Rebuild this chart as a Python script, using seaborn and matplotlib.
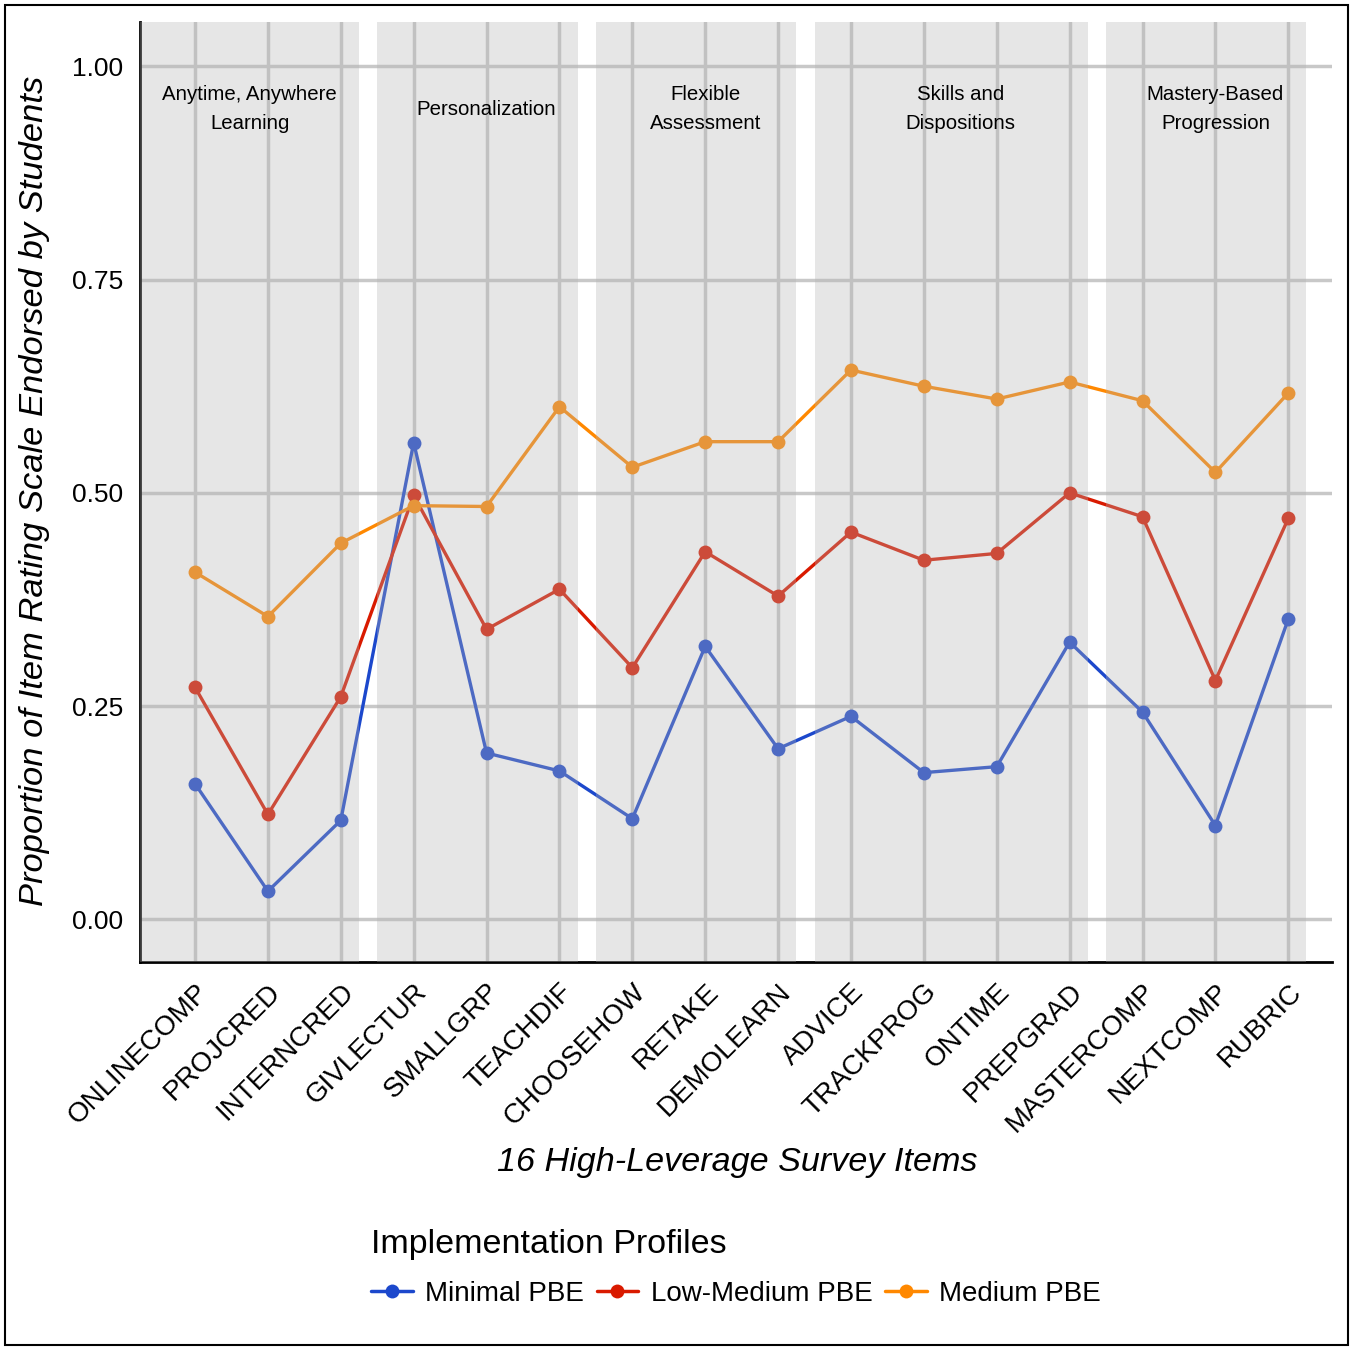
import numpy as np
import pandas as pd
import matplotlib.pyplot as plt
import seaborn as sns
from matplotlib.lines import Line2D
from matplotlib.patches import Rectangle

# Dane
items = ['ONLINECOMP', 'PROJCRED', 'INTERNCRED', 'GIVLECTUR', 'SMALLGRP', 'TEACHDIF',
         'CHOOSEHOW', 'RETAKE', 'DEMOLEARN', 'ADVICE', 'TRACKPROG', 'ONTIME',
         'PREPGRAD', 'MASTERCOMP', 'NEXTCOMP', 'RUBRIC']
minimal = [0.159, 0.033, 0.116, 0.559, 0.195, 0.174, 0.118, 0.320,
           0.200, 0.238, 0.172, 0.179, 0.325, 0.243, 0.110, 0.352]
low_medium = [0.272, 0.123, 0.261, 0.497, 0.340, 0.387, 0.295, 0.431,
              0.379, 0.454, 0.421, 0.429, 0.500, 0.472, 0.280, 0.470]
medium = [0.407, 0.355, 0.441, 0.485, 0.484, 0.601, 0.530, 0.560,
          0.560, 0.644, 0.625, 0.610, 0.630, 0.608, 0.524, 0.617]
profiles = ['Minimal PBE', 'Low-Medium PBE', 'Medium PBE']
colors = ['#1c48cc', '#d91a00', '#ff8800']

groups = ['Anytime, Anywhere\nLearning', 'Personalization', 'Flexible\nAssessment',
          'Skills and\nDispositions', 'Mastery-Based\nProgression']
group_first = [0, 3, 6, 9, 13]
group_last = [2, 5, 8, 12, 15]
group_label_x = [0.75, 4, 7, 10.5, 14]

df = pd.DataFrame({
    'pos': list(range(len(items))) * 3,
    'value': minimal + low_medium + medium,
    'profile': np.repeat(profiles, len(items)),
})

sns.set_style('white')
plt.rcParams['font.family'] = ['Liberation Sans', 'DejaVu Sans']
plt.rcParams['text.color'] = 'black'
plt.rcParams['xtick.color'] = 'black'
plt.rcParams['ytick.color'] = 'black'

fig = plt.figure(figsize=(13.51, 13.47), dpi=100)
ax = fig.add_axes([140 / 1351, 1 - 962 / 1347, 1192 / 1351, 940 / 1347])

ax.set_axisbelow(True)
ax.grid(True, color='#c8c8c8', lw=2.5)

sns.lineplot(data=df, x='pos', y='value', hue='profile', palette=colors,
             marker='o', markersize=10, markeredgewidth=0, linewidth=2.4,
             ax=ax, legend=False, zorder=2)

# Szare pasy grup (półprzezroczyste, nad liniami)
x_left = -0.755
for i, (a, b) in enumerate(zip(group_first, group_last)):
    left = x_left if i == 0 else a - 0.5
    ax.axvspan(left, b + 0.25, color=(0.7, 0.7, 0.7), alpha=0.325, lw=0, zorder=3)
    ax.text(group_label_x[i], 0.95, groups[i], ha='center', va='center',
            fontsize=14.7, linespacing=1.7, zorder=4, color='black')

ax.set_xlim(x_left, 15.6)
ax.set_ylim(-0.05, 1.052)
ax.set_xticks(range(len(items)))
ax.set_xticklabels(items, rotation=45, ha='right', va='top',
                   rotation_mode='anchor', fontsize=20)
ax.set_yticks([0, 0.25, 0.5, 0.75, 1.0])
ax.set_yticklabels(['0.00', '0.25', '0.50', '0.75', '1.00'], fontsize=19)
ax.tick_params(axis='x', length=0, pad=12)
ax.tick_params(axis='y', length=0, pad=12)
ax.set_xlabel('')
ax.set_ylabel('')

for s in ['top', 'right']:
    ax.spines[s].set_visible(False)
for s in ['left', 'bottom']:
    ax.spines[s].set_color('black')
    ax.spines[s].set_linewidth(2)

fig.text(737 / 1351, 1 - 1163 / 1347, '16 High-Leverage Survey Items',
         ha='center', va='center', fontsize=24.6, style='italic')
fig.text(35 / 1351, 1 - 491 / 1347,
         'Proportion of Item Rating Scale Endorsed by Students',
         ha='center', va='center', rotation=90, fontsize=24.8, style='italic')

handles = [Line2D([], [], color=c, marker='o', lw=2.5, markersize=10,
                  markeredgewidth=0) for c in colors]
fig.legend(handles, profiles, loc='center', bbox_to_anchor=(736 / 1351, 1 - 1268 / 1347),
           ncol=3, frameon=False, title='Implementation Profiles', title_fontsize=24.5,
           fontsize=20, alignment='left', handlelength=1.5, handletextpad=0.45,
           columnspacing=0.45, labelspacing=0.75)

# Ramka wokół całej figury
fig.patches.append(Rectangle((5 / 1351, 2 / 1347), 1343 / 1351, 1340 / 1347,
                             transform=fig.transFigure, fill=False,
                             edgecolor='black', lw=1.5))

fig.savefig('out.png', dpi=100)
